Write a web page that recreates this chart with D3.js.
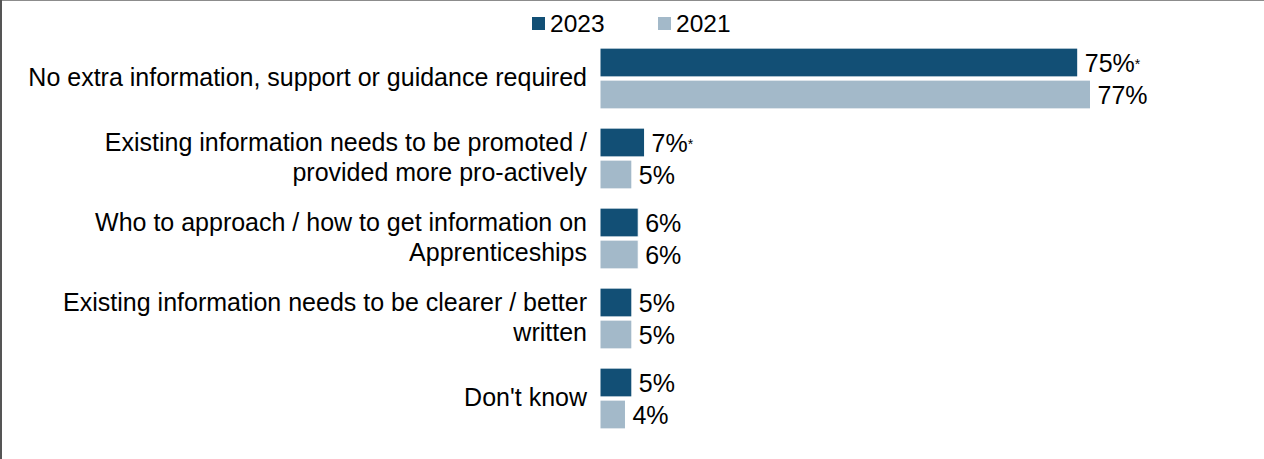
<!DOCTYPE html>
<html>
<head>
<meta charset="utf-8">
<script src="https://cdn.jsdelivr.net/npm/d3@7"></script>
<style>
  html, body { margin: 0; padding: 0; background: #fff; }
  svg { display: block; font-family: "Liberation Sans", Arial, sans-serif; }
</style>
</head>
<body>
<svg id="chart" width="1264" height="459"></svg>
<script>
// Survey responses: extra information needed about Apprenticeships
const categories = [
  ["No extra information, support or guidance required"],
  ["Existing information needs to be promoted /", "provided more pro-actively"],
  ["Who to approach / how to get information on", "Apprenticeships"],
  ["Existing information needs to be clearer / better", "written"],
  ["Don't know"]
];
const seriesNames = ["2023", "2021"];
const values2023 = [75, 7, 6, 5, 5];
const values2021 = [77, 5, 6, 5, 4];
// Significant difference marker on the 2023 values
const flags2023 = [true, true, false, false, false];
const colors = ["#124f75", "#a3b9c9"];

const svg = d3.select("#chart");
const W = 1264, H = 459;
const FS = 25;

// frame lines (top and left)
svg.append("line").attr("x1", 0).attr("x2", W).attr("y1", 0.5).attr("y2", 0.5)
  .attr("stroke", "#8c8c8c").attr("stroke-width", 1);
svg.append("line").attr("x1", 1).attr("x2", 1).attr("y1", 0).attr("y2", H)
  .attr("stroke", "#555").attr("stroke-width", 2);

const x = d3.scaleLinear().domain([0, 100]).range([600, 1237]);
const y = d3.scaleBand().domain(d3.range(categories.length)).range([38.5, 438.5]);
const inner = d3.scaleBand().domain(seriesNames).range([0, y.bandwidth()]).paddingInner(0.1).paddingOuter(0.3);

const rows = categories.map((c, i) => ({
  label: c,
  vals: [
    { s: "2023", v: values2023[i], flag: flags2023[i] },
    { s: "2021", v: values2021[i], flag: false }
  ]
}));

const g = svg.selectAll("g.row").data(rows).join("g")
  .attr("class", "row")
  .attr("transform", (d, i) => `translate(0,${y(i)})`);

g.selectAll("rect").data(d => d.vals).join("rect")
  .attr("x", x(0))
  .attr("y", d => inner(d.s))
  .attr("width", d => x(d.v) - x(0))
  .attr("height", inner.bandwidth())
  .attr("fill", (d, j) => colors[j])
  .attr("stroke", "#fff").attr("stroke-width", 1);

const vl = g.selectAll("text.val").data(d => d.vals).join("text")
  .attr("class", "val")
  .attr("x", d => x(d.v) + 7)
  .attr("y", d => inner(d.s) + inner.bandwidth() / 2)
  .attr("dy", "0.36em")
  .attr("font-size", FS)
  .attr("fill", "#000");
vl.append("tspan").text(d => d.v + "%");
vl.filter(d => d.flag).append("tspan")
  .attr("font-size", 14).attr("dy", "-0.15em").text("*");

// category labels, right aligned against the bars
g.append("text")
  .attr("text-anchor", "end")
  .attr("font-size", FS)
  .attr("fill", "#000")
  .each(function(d) {
    const t = d3.select(this);
    const n = d.label.length;
    const lh = 30;
    d.label.forEach((line, k) => {
      t.append("tspan")
        .attr("x", 587)
        .attr("y", y.bandwidth() / 2 + (k - (n - 1) / 2) * lh)
        .attr("dy", "0.31em")
        .text(line);
    });
  });

// legend
const legend = svg.append("g");
const lx = [532, 658];
seriesNames.forEach((s, i) => {
  legend.append("rect").attr("x", lx[i]).attr("y", 17).attr("width", 13).attr("height", 13)
    .attr("fill", colors[i]);
  legend.append("text").attr("x", lx[i] + 18).attr("y", 23.5).attr("dy", "0.36em")
    .attr("font-size", 24.5).attr("fill", "#000").text(s);
});
</script>
</body>
</html>
